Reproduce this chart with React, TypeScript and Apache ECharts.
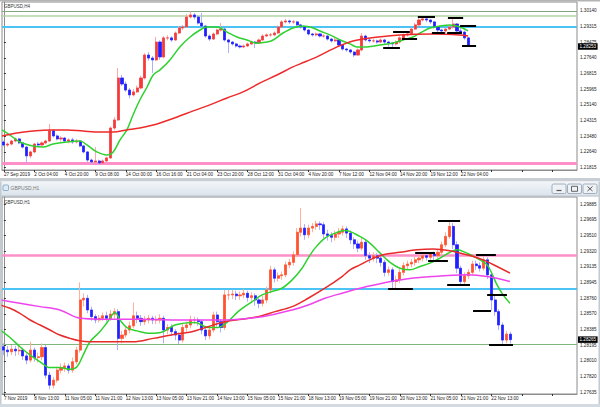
import React, { useEffect, useRef } from 'react';
import * as echarts from 'echarts';

const SLOTS = 151;
const FONT = '"Liberation Sans", Arial, sans-serif';
const FS = 4.6;

const topXLabels = ['27 Sep 2019', '2 Oct 04:00', '4 Oct 20:00', '9 Oct 08:00', '14 Oct 00:00', '16 Oct 16:00', '21 Oct 04:00', '23 Oct 20:00', '28 Oct 12:00', '31 Oct 04:00', '4 Nov 20:00', '7 Nov 12:00', '12 Nov 04:00', '14 Nov 20:00', '19 Nov 12:00', '22 Nov 04:00'];
const botXLabels = ['7 Nov 2019', '8 Nov 13:00', '11 Nov 05:00', '11 Nov 21:00', '12 Nov 13:00', '13 Nov 05:00', '13 Nov 21:00', '14 Nov 13:00', '15 Nov 05:00', '15 Nov 21:00', '18 Nov 13:00', '19 Nov 05:00', '19 Nov 21:00', '20 Nov 13:00', '21 Nov 05:00', '21 Nov 21:00', '22 Nov 13:00'];

const topYTicks = [1.21815, 1.226475, 1.2348, 1.243125, 1.25145, 1.259775, 1.2681, 1.276425, 1.28475, 1.293075, 1.3014];
const topYLabels = ['1.21815', '1.22640', '1.23480', '1.24315', '1.25140', '1.25965', '1.26815', '1.27640', '1.28475', '1.29315', '1.30140'];
const botYTicks = [1.27635, 1.278225, 1.2801, 1.281975, 1.28385, 1.285725, 1.2876, 1.289475, 1.29135, 1.293225, 1.2951, 1.296975, 1.29885];
const botYLabels = ['1.27635', '1.27820', '1.28010', '1.28195', '1.28385', '1.28570', '1.28760', '1.28945', '1.29135', '1.29320', '1.29510', '1.29695', '1.29885'];

// H4 candles [open, close, low, high]
const topCandles = [
[1.2318,1.2302,1.2295,1.2325],[1.2302,1.2307,1.2292,1.2315],[1.2307,1.2323,1.2300,1.2330],[1.2323,1.2334,1.2316,1.2342],
[1.2334,1.2313,1.2306,1.2340],[1.2313,1.2291,1.2284,1.2318],[1.2291,1.2244,1.2206,1.2296],[1.2244,1.2265,1.2232,1.2272],
[1.2265,1.2307,1.2258,1.2313],[1.2307,1.2302,1.2294,1.2318],[1.2302,1.2313,1.2296,1.2321],[1.2313,1.2323,1.2306,1.2330],
[1.2323,1.2377,1.2318,1.2414],[1.2377,1.2350,1.2342,1.2384],[1.2350,1.2334,1.2326,1.2358],[1.2334,1.2339,1.2320,1.2348],
[1.2339,1.2323,1.2316,1.2345],[1.2323,1.2329,1.2311,1.2337],[1.2329,1.2318,1.2308,1.2340],[1.2318,1.2323,1.2310,1.2333],
[1.2323,1.2297,1.2290,1.2328],[1.2297,1.2265,1.2258,1.2302],[1.2265,1.2222,1.2212,1.2270],[1.2222,1.2212,1.2203,1.2230],
[1.2212,1.2217,1.2205,1.2291],[1.2217,1.2206,1.2198,1.2224],[1.2206,1.2217,1.2200,1.2225],[1.2217,1.2233,1.2210,1.2240],
[1.2233,1.2392,1.2228,1.2400],[1.2392,1.2435,1.2380,1.2450],[1.2435,1.2658,1.2430,1.2711],[1.2658,1.2626,1.2615,1.2675],
[1.2626,1.2594,1.2585,1.2640],[1.2594,1.2568,1.2550,1.2605],[1.2568,1.2584,1.2560,1.2600],[1.2584,1.2605,1.2578,1.2618],
[1.2605,1.2658,1.2598,1.2670],[1.2658,1.2780,1.2650,1.2790],[1.2780,1.2764,1.2750,1.2795],[1.2764,1.2754,1.2685,1.2775],
[1.2754,1.2849,1.2748,1.2876],[1.2849,1.2770,1.2755,1.2858],[1.2770,1.2871,1.2762,1.2880],[1.2871,1.2871,1.2858,1.2885],
[1.2871,1.2860,1.2850,1.2880],[1.2860,1.2897,1.2855,1.2905],[1.2897,1.2924,1.2890,1.2935],[1.2924,1.2929,1.2912,1.2940],
[1.2929,1.2982,1.2924,1.2998],[1.2982,1.2993,1.2975,1.3012],[1.2993,1.2982,1.2970,1.3003],[1.2982,1.2950,1.2942,1.2990],
[1.2950,1.2934,1.2925,1.3003],[1.2934,1.2881,1.2872,1.2940],[1.2881,1.2865,1.2855,1.2890],[1.2865,1.2892,1.2860,1.2900],
[1.2892,1.2913,1.2885,1.2920],[1.2913,1.2918,1.2905,1.2950],[1.2918,1.2860,1.2852,1.2925],[1.2860,1.2849,1.2791,1.2866],
[1.2849,1.2839,1.2830,1.2855],[1.2839,1.2828,1.2820,1.2845],[1.2828,1.2823,1.2815,1.2835],[1.2823,1.2828,1.2816,1.2836],
[1.2828,1.2839,1.2822,1.2846],[1.2839,1.2849,1.2833,1.2857],[1.2849,1.2844,1.2817,1.2855],[1.2844,1.2860,1.2838,1.2868],
[1.2860,1.2881,1.2855,1.2890],[1.2881,1.2887,1.2875,1.2895],[1.2887,1.2887,1.2878,1.2897],[1.2887,1.2897,1.2880,1.2905],
[1.2897,1.2929,1.2892,1.2937],[1.2929,1.2956,1.2922,1.2965],[1.2956,1.2961,1.2948,1.2972],[1.2961,1.2956,1.2945,1.2968],
[1.2956,1.2956,1.2946,1.2966],[1.2956,1.2940,1.2932,1.2962],[1.2940,1.2929,1.2920,1.2946],[1.2929,1.2913,1.2905,1.2935],
[1.2913,1.2892,1.2884,1.2918],[1.2892,1.2887,1.2878,1.2898],[1.2887,1.2892,1.2880,1.2900],[1.2892,1.2881,1.2873,1.2897],
[1.2881,1.2881,1.2872,1.2890],[1.2881,1.2865,1.2857,1.2886],[1.2865,1.2855,1.2846,1.2870],[1.2855,1.2860,1.2848,1.2876],
[1.2860,1.2833,1.2825,1.2866],[1.2833,1.2812,1.2804,1.2838],[1.2812,1.2807,1.2798,1.2818],[1.2807,1.2796,1.2787,1.2812],
[1.2796,1.2780,1.2770,1.2800],[1.2780,1.2807,1.2775,1.2815],[1.2807,1.2881,1.2800,1.2897],[1.2881,1.2860,1.2852,1.2888],
[1.2860,1.2855,1.2846,1.2868],[1.2855,1.2855,1.2846,1.2866],[1.2855,1.2849,1.2840,1.2862],[1.2849,1.2860,1.2842,1.2868],
[1.2860,1.2849,1.2838,1.2866],[1.2849,1.2844,1.2825,1.2855],[1.2844,1.2839,1.2817,1.2850],[1.2839,1.2849,1.2830,1.2857],
[1.2849,1.2871,1.2842,1.2880],[1.2871,1.2887,1.2864,1.2895],[1.2887,1.2892,1.2878,1.2902],[1.2892,1.2918,1.2886,1.2926],
[1.2918,1.2940,1.2912,1.2950],[1.2940,1.2966,1.2935,1.2982],[1.2966,1.2972,1.2958,1.2982],[1.2972,1.2966,1.2955,1.2978],
[1.2966,1.2956,1.2945,1.2972],[1.2956,1.2929,1.2920,1.2960],[1.2929,1.2913,1.2900,1.2935],[1.2913,1.2908,1.2897,1.2920],
[1.2908,1.2918,1.2897,1.2925],[1.2918,1.2929,1.2912,1.2937],[1.2929,1.2945,1.2920,1.2977],[1.2945,1.2908,1.2900,1.2950],
[1.2908,1.2902,1.2897,1.2934],[1.2902,1.2871,1.2862,1.2910],[1.2871,1.28253,1.2823,1.2878],
];

// H1 candles [open, close, low, high]
const botCandles = [
[1.2818,1.2814,1.2808,1.2822],[1.2814,1.2812,1.2806,1.2819],[1.2812,1.2815,1.2808,1.2820],[1.2815,1.2813,1.2807,1.2819],
[1.2813,1.2814,1.2808,1.2819],[1.2814,1.2807,1.2802,1.2817],[1.2807,1.2802,1.2797,1.2810],[1.2802,1.2814,1.2799,1.2824],
[1.2814,1.2805,1.2800,1.2817],[1.2805,1.2806,1.2799,1.2811],[1.2806,1.2817,1.2802,1.2822],[1.2817,1.2784,1.2780,1.2820],
[1.2784,1.2772,1.2767,1.2788],[1.2772,1.2778,1.2768,1.2782],[1.2778,1.2790,1.2775,1.2794],[1.2790,1.2793,1.2786,1.2798],
[1.2793,1.2795,1.2788,1.2799],[1.2795,1.2790,1.2786,1.2798],[1.2790,1.2800,1.2787,1.2805],[1.2800,1.2814,1.2797,1.2818],
[1.2814,1.2874,1.2811,1.2895],[1.2874,1.2876,1.2866,1.2882],[1.2876,1.2862,1.2858,1.2880],[1.2862,1.2854,1.2849,1.2866],
[1.2854,1.2850,1.2846,1.2857],[1.2850,1.2852,1.2847,1.2856],[1.2852,1.2855,1.2849,1.2859],[1.2855,1.2852,1.2848,1.2860],
[1.2852,1.2857,1.2849,1.2862],[1.2857,1.2860,1.2852,1.2864],[1.2860,1.2828,1.2814,1.2863],[1.2828,1.2832,1.2822,1.2837],
[1.2832,1.2838,1.2829,1.2842],[1.2838,1.2843,1.2834,1.2848],[1.2843,1.2855,1.2840,1.2871],[1.2855,1.2852,1.2846,1.2860],
[1.2852,1.2848,1.2843,1.2856],[1.2848,1.2850,1.2844,1.2855],[1.2850,1.2852,1.2846,1.2856],[1.2852,1.2850,1.2845,1.2855],
[1.2850,1.2850,1.2845,1.2855],[1.2850,1.2852,1.2846,1.2857],[1.2852,1.2838,1.2822,1.2855],[1.2838,1.2841,1.2833,1.2845],
[1.2841,1.2836,1.2831,1.2845],[1.2836,1.2832,1.2826,1.2839],[1.2832,1.2826,1.2821,1.2835],[1.2826,1.2841,1.2823,1.2845],
[1.2841,1.2844,1.2836,1.2848],[1.2844,1.2850,1.2840,1.2855],[1.2850,1.2850,1.2845,1.2854],[1.2850,1.2848,1.2843,1.2853],
[1.2848,1.2838,1.2833,1.2851],[1.2838,1.2831,1.2826,1.2841],[1.2831,1.2838,1.2827,1.2843],[1.2838,1.2856,1.2835,1.2860],
[1.2856,1.2848,1.2842,1.2860],[1.2848,1.2841,1.2835,1.2851],[1.2841,1.2880,1.2838,1.2886],[1.2880,1.2880,1.2874,1.2886],
[1.2880,1.2881,1.2875,1.2886],[1.2881,1.2879,1.2874,1.2885],[1.2879,1.2880,1.2874,1.2884],[1.2880,1.2882,1.2876,1.2887],
[1.2882,1.2877,1.2872,1.2885],[1.2877,1.2879,1.2873,1.2883],[1.2879,1.2874,1.2867,1.2882],[1.2874,1.2870,1.2864,1.2877],
[1.2870,1.2874,1.2866,1.2879],[1.2874,1.2886,1.2870,1.2890],[1.2886,1.2910,1.2882,1.2915],[1.2910,1.2900,1.2895,1.2913],
[1.2900,1.2903,1.2896,1.2907],[1.2903,1.2904,1.2898,1.2908],[1.2904,1.2916,1.2901,1.2920],[1.2916,1.2919,1.2912,1.2923],
[1.2919,1.2928,1.2915,1.2932],[1.2928,1.2955,1.2925,1.2960],[1.2955,1.2960,1.2950,1.2984],[1.2960,1.2952,1.2946,1.2965],
[1.2952,1.2960,1.2948,1.2964],[1.2960,1.2962,1.2955,1.2966],[1.2962,1.2965,1.2958,1.2969],[1.2965,1.2964,1.2958,1.2968],
[1.2964,1.2953,1.2948,1.2967],[1.2953,1.2951,1.2945,1.2958],[1.2951,1.2949,1.2943,1.2955],[1.2949,1.2953,1.2945,1.2957],
[1.2953,1.2955,1.2948,1.2960],[1.2955,1.2959,1.2951,1.2963],[1.2959,1.2954,1.2948,1.2962],[1.2954,1.2946,1.2941,1.2957],
[1.2946,1.2941,1.2935,1.2949],[1.2941,1.2936,1.2931,1.2945],[1.2936,1.2943,1.2933,1.2948],[1.2943,1.2927,1.2922,1.2946],
[1.2927,1.2924,1.2918,1.2931],[1.2924,1.2927,1.2920,1.2931],[1.2927,1.2924,1.2918,1.2930],[1.2924,1.2919,1.2914,1.2927],
[1.2919,1.2907,1.2902,1.2922],[1.2907,1.2910,1.2903,1.2914],[1.2910,1.2896,1.2887,1.2913],[1.2896,1.2898,1.2887,1.2903],
[1.2898,1.2907,1.2894,1.2911],[1.2907,1.2915,1.2903,1.2919],[1.2915,1.2917,1.2911,1.2921],[1.2917,1.2919,1.2913,1.2923],
[1.2919,1.2922,1.2915,1.2927],[1.2922,1.2924,1.2918,1.2931],[1.2924,1.2927,1.2920,1.2931],[1.2927,1.2925,1.2921,1.2930],
[1.2925,1.2929,1.2921,1.2931],[1.2929,1.2927,1.2921,1.2932],[1.2927,1.2931,1.2924,1.2935],[1.2931,1.2940,1.2928,1.2944],
[1.2940,1.2950,1.2937,1.2955],[1.2950,1.2962,1.2947,1.2969],[1.2962,1.2940,1.2935,1.2966],[1.2940,1.2912,1.2906,1.2944],
[1.2912,1.2896,1.2892,1.2915],[1.2896,1.2903,1.2892,1.2907],[1.2903,1.2907,1.2899,1.2911],[1.2907,1.2917,1.2904,1.2921],
[1.2917,1.2915,1.2910,1.2921],[1.2915,1.2912,1.2908,1.2919],[1.2912,1.2922,1.2909,1.2928],[1.2922,1.2904,1.2899,1.2925],
[1.2904,1.2874,1.2861,1.2906],[1.2874,1.2860,1.2855,1.2880],[1.2860,1.2844,1.2838,1.2863],[1.2844,1.2826,1.2820,1.2847],
[1.2826,1.2833,1.2822,1.2837],[1.2833,1.28265,1.2822,1.2836],
];

// moving averages as [slot, price]
const topMaFast = [[-0.5,1.2382],[1.6,1.2355],[4.2,1.2318],[7.6,1.2297],[10.3,1.2291],[12.9,1.2307],[16.6,1.2318],[20,1.2323],[21.8,1.2302],[24.4,1.2265],[27.1,1.2249],[28.7,1.2265],[30.5,1.2329],[32.3,1.2382],[33.9,1.2461],[35.7,1.2541],[37.6,1.2610],[39.2,1.2674],[41,1.2701],[43.6,1.2754],[46.2,1.2823],[48.9,1.2876],[51.5,1.2913],[53.3,1.2929],[56,1.2929],[58.6,1.2902],[61.2,1.2876],[63.8,1.2860],[66.5,1.2843],[69.1,1.2849],[70.7,1.2860],[73.3,1.2897],[75.9,1.2924],[78.5,1.2934],[81.2,1.2924],[83,1.2908],[85.6,1.2887],[88.3,1.2860],[90.9,1.2839],[92.7,1.2823],[95.3,1.2823],[98.8,1.2833],[102.2,1.2844],[104.8,1.2860],[107.4,1.2876],[109.3,1.2897],[111.9,1.2924],[114.5,1.2934],[117.1,1.2940],[119.8,1.2929],[121.9,1.2908]];
const topMaSlow = [[-0.5,1.2350],[3.4,1.2366],[7.6,1.2376],[12.1,1.2382],[16.6,1.2382],[20.8,1.2376],[25.2,1.2371],[28.7,1.2371],[32.3,1.2382],[35.7,1.2392],[39.2,1.2408],[41,1.2419],[45.5,1.2451],[49.7,1.2483],[54.1,1.2515],[58.6,1.2552],[62.8,1.2584],[67.3,1.2632],[71.7,1.2674],[75.9,1.2717],[77.8,1.2733],[82.2,1.2770],[87.5,1.2823],[91.7,1.2855],[96.1,1.2871],[104,1.2887],[112.7,1.2892],[119.8,1.2887],[121.9,1.2881]];
const botMaFast = [[-1,1.2838],[1.6,1.2829],[4.2,1.2818],[6.9,1.2808],[9.5,1.2800],[12.1,1.2793],[14.7,1.2793],[17.4,1.2791],[19.2,1.2794],[20.8,1.2808],[22.6,1.2824],[25.2,1.2836],[27.1,1.2847],[29.2,1.2859],[30.5,1.2850],[32.3,1.2841],[34.9,1.2837],[38.4,1.2834],[41.8,1.2836],[44.9,1.2844],[50.2,1.2847],[53.6,1.2841],[56.2,1.2841],[58.8,1.2848],[61.5,1.2860],[65.2,1.2872],[67.8,1.2880],[70.4,1.2884],[73,1.2888],[75.7,1.2898],[78.3,1.2912],[79.9,1.2924],[81.7,1.2936],[84.3,1.2948],[87,1.2954],[89.6,1.2957],[93.5,1.2950],[96.1,1.2942],[98.8,1.2930],[101.4,1.2919],[104,1.2912],[106.6,1.2910],[109.3,1.2914],[111.9,1.2918],[114.5,1.2924],[117.1,1.2931],[119,1.2934],[121.6,1.2930],[124.2,1.2924],[126.9,1.2916],[129.5,1.2892],[131.1,1.2880],[132.9,1.2870]];
const botMaSlow = [[-1,1.2868],[1.6,1.2864],[4.2,1.2858],[6.9,1.2850],[9.5,1.2844],[12.1,1.2838],[14.7,1.2832],[17.4,1.2828],[20,1.2825],[22.6,1.2824],[27.9,1.2824],[33.9,1.2824],[39.2,1.2828],[44.9,1.2833],[49.4,1.2836],[53.6,1.2842],[58.1,1.2848],[62.5,1.2851],[66.7,1.2854],[71.2,1.2860],[75.7,1.2866],[79.9,1.2876],[84.3,1.2888],[88.8,1.2902],[90.9,1.2910],[93.5,1.2916],[96.1,1.2922],[99.6,1.2928],[104,1.2931],[108.5,1.2934],[112.7,1.2935],[117.1,1.2933],[121.6,1.2928],[125.8,1.2922],[129.5,1.2914],[132.9,1.2906]];
const botMaLong = [[-1,1.2874],[4.2,1.2870],[9.5,1.2866],[14.7,1.2862],[20,1.2852],[25.2,1.2851],[35.7,1.2851],[44.9,1.2850],[58.1,1.2850],[67.8,1.2854],[75.7,1.2862],[79.9,1.2868],[84.3,1.2876],[88.8,1.2882],[95.3,1.2890],[104,1.2898],[112.7,1.2902],[121.6,1.2904],[126.9,1.2902],[132.9,1.2896]];

// horizontal levels
const topLevels = [1.3014, 1.2988, 1.2932, 1.2203];
const botLevels = [1.2928, 1.2887, 1.2821];
// short black segments [fromSlot, toSlot, price]
const topSegments = [[99.6,104.0,1.2817],[102.2,106.6,1.2902],[104.5,108.5,1.2864],[108.7,113.2,1.2982],[112.4,115.8,1.2897],[116.4,120.3,1.2897],[116.6,120.6,1.2977],[119.8,124,1.2934],[120.3,124,1.2828]];
const botSegments = [[114,119.8,1.2969],[108,113.2,1.2931],[111.4,116.6,1.2921],[100.9,107.4,1.2887],[116.4,122.4,1.2892],[124,129.2,1.2928],[126.9,132.1,1.2880],[123.2,127.9,1.2861],[127.4,133.7,1.2820]];

const topLevelStyles = [
  { color: '#7fa67f', width: 1 },
  { color: '#b3d3a3', width: 1.5 },
  { color: '#4cc3f5', width: 2 },
  { color: '#ff8fc8', width: 3 },
];
const botLevelStyles = [
  { color: '#ff8fc8', width: 2.5 },
  { color: '#4cc3f5', width: 2 },
  { color: '#7fb87f', width: 1 },
];

function makeLabelFormatter(ticks: number[], labels: string[]) {
  return (v: number) => {
    const i = ticks.findIndex((t) => Math.abs(t - v) < 1e-7);
    return i >= 0 ? labels[i] : '';
  };
}

function buildSeries(
  xCat: number, xVal: number, yIdx: number, candles: number[][], mas: { data: number[][]; color: string }[],
  levels: number[], levelStyles: { color: string; width: number }[], segments: number[][], up: string, upWick: string,
) {
  const last = candles[candles.length - 1][1];
  const bodies = candles.map(([o, c]) => [o, c, Math.min(o, c), Math.max(o, c)]);
  const L = -0.5;
  const R = SLOTS - 0.5;
  const hidden = { type: 'line', xAxisIndex: xVal, yAxisIndex: yIdx, showSymbol: false, silent: true, lineStyle: { width: 0, opacity: 0 } };
  const series: any[] = [
    {
      ...hidden, data: [[L, levels[0]]], z: 1,
      markLine: {
        silent: true, symbol: ['none', 'none'], z: 1, label: { show: false },
        data: levels.map((p, i) => [
          { coord: [L, p], lineStyle: { color: levelStyles[i].color, width: levelStyles[i].width, type: 'solid' } },
          { coord: [R, p] },
        ]),
      },
    },
    {
      type: 'candlestick', xAxisIndex: xCat, yAxisIndex: yIdx, data: candles, barWidth: 2.6, z: 2, silent: true,
      itemStyle: { color: upWick, color0: '#aeaeff', borderColor: upWick, borderColor0: '#aeaeff', borderWidth: 1 },
    },
    {
      type: 'candlestick', xAxisIndex: xCat, yAxisIndex: yIdx, data: bodies, barWidth: 2.6, z: 3, silent: true,
      itemStyle: { color: up, color0: '#1f1fff', borderColor: up, borderColor0: '#1f1fff', borderWidth: 0.6 },
    },
  ];
  mas.forEach((m) => {
    series.push({
      type: 'line', xAxisIndex: xVal, yAxisIndex: yIdx, data: m.data, smooth: 0.35, showSymbol: false, silent: true,
      lineStyle: { color: m.color, width: 1.5 }, z: 4, clip: true,
    });
  });
  series.push({
    ...hidden, data: [[L, last]], z: 6,
    markLine: {
      silent: true, symbol: ['none', 'none'], z: 6, label: { show: false },
      lineStyle: { color: '#000', width: 2, type: 'solid' },
      data: segments.map(([a, b, p]) => [{ coord: [a, p] }, { coord: [b, p] }]),
    },
  });
  series.push({
    ...hidden, data: [[R, last]], z: 10,
    markLine: {
      silent: true, symbol: ['none', 'none'], z: 10,
      lineStyle: { color: 'rgba(0,0,0,0)', width: 0 },
      label: {
        show: true, position: 'end', distance: 1, formatter: () => last.toFixed(5),
        backgroundColor: '#000', color: '#fff', fontSize: FS, fontFamily: FONT, padding: [1, 1.5, 0.5, 1.5],
      },
      data: [[{ coord: [L, last] }, { coord: [R, last] }]],
    },
  });
  return series;
}

export default function App() {
  const ref = useRef<HTMLDivElement>(null);
  useEffect(() => {
    const chart = echarts.init(ref.current as HTMLDivElement, null, { renderer: 'svg' });
    const cats = Array.from({ length: SLOTS }, (_, i) => String(i));
    const catAxis = (grid: number, labels: string[]) => ({
      type: 'category', gridIndex: grid, data: cats, boundaryGap: true,
      axisLine: { show: true, lineStyle: { color: '#8c8c8c', width: 1 } },
      axisTick: { show: true, interval: 7, alignWithLabel: true, length: 2, lineStyle: { color: '#333' } },
      axisLabel: {
        interval: 7, align: 'left', margin: 1.5, fontSize: FS, fontFamily: FONT, color: '#222',
        formatter: (_v: string, idx: number) => (idx % 8 === 0 && labels[idx / 8]) ? labels[idx / 8] : '',
      },
      splitLine: { show: false },
    });
    const valAxis = (grid: number) => ({ type: 'value', gridIndex: grid, min: -0.5, max: SLOTS - 0.5, show: false });
    const yAxis = (grid: number, min: number, max: number, ticks: number[], labels: string[]) => ({
      type: 'value', gridIndex: grid, position: 'right', min, max,
      axisLine: { show: true, lineStyle: { color: '#8c8c8c', width: 1 } },
      axisTick: { show: true, length: 2, customValues: ticks, lineStyle: { color: '#333' } },
      axisLabel: { customValues: ticks, formatter: makeLabelFormatter(ticks, labels), fontSize: FS, fontFamily: FONT, color: '#222', margin: 3 },
      splitLine: { show: false },
    });

    const series = [
      ...buildSeries(0, 1, 0, topCandles, [
        { data: topMaFast, color: '#2fd12f' },
        { data: topMaSlow, color: '#ee2a2a' },
      ], topLevels, topLevelStyles, topSegments, '#f43a3a', '#ffa6a6'),
      ...buildSeries(2, 3, 1, botCandles, [
        { data: botMaFast, color: '#2fd12f' },
        { data: botMaSlow, color: '#e82a2a' },
        { data: botMaLong, color: '#ee44ee' },
      ], botLevels, botLevelStyles, botSegments, '#ff5230', '#ffb09a'),
    ];

    const txt = (x: number, y: number, text: string, size: number, fill: string) => ({
      type: 'text', x, y, z: 100, silent: true,
      style: { text, fontSize: size, fontFamily: FONT, fill, verticalAlign: 'top', align: 'left' },
    });

    const graphic: any[] = [
      { type: 'rect', z: 100, silent: true, shape: { x: 0, y: 0, width: 600, height: 1.5 }, style: { fill: '#b4b4b4' } },
      txt(4, 3.5, 'GBPUSD,H4', 4.5, '#333'),
      { type: 'rect', z: 100, silent: true, shape: { x: 0, y: 178, width: 600, height: 3.5 }, style: { fill: '#c9ced4' } },
      {
        type: 'rect', z: 100, silent: true, shape: { x: 0, y: 181.5, width: 600, height: 14 },
        style: { fill: new echarts.graphic.LinearGradient(0, 0, 0, 1, [{ offset: 0, color: '#f3f6f9' }, { offset: 1, color: '#dbe3eb' }]) },
      },
      { type: 'rect', z: 100, silent: true, shape: { x: 0, y: 195.5, width: 600, height: 1 }, style: { fill: '#aeb8c2' } },
      { type: 'rect', z: 100, silent: true, shape: { x: 0, y: 181.5, width: 1.5, height: 226 }, style: { fill: '#c2cad2' } },
      { type: 'rect', z: 100, silent: true, shape: { x: 598.5, y: 181.5, width: 1.5, height: 226 }, style: { fill: '#c2cad2' } },
      { type: 'rect', z: 100, silent: true, shape: { x: 0, y: 404, width: 600, height: 3 }, style: { fill: '#d3dae1' } },
      { type: 'rect', z: 101, silent: true, shape: { x: 3, y: 185, width: 5.5, height: 5.5, r: 1 }, style: { fill: '#dde9f5', stroke: '#6e94bb', lineWidth: 0.7 } },
      txt(10.5, 185.5, 'GBPUSD,H1', 5, '#7a7a7a'),
      txt(4, 199.5, 'GBPUSD,H1', 4.5, '#333'),
    ];
    const btnX = [552, 567.5, 583];
    btnX.forEach((bx) => {
      graphic.push({ type: 'rect', z: 101, silent: true, shape: { x: bx, y: 184, width: 14, height: 9.5, r: 1.5 }, style: { fill: '#eef2f6', stroke: '#8e9dac', lineWidth: 0.8 } });
    });
    graphic.push({ type: 'line', z: 102, silent: true, shape: { x1: 556.5, y1: 190.5, x2: 561.5, y2: 190.5 }, style: { stroke: '#555', lineWidth: 1.2 } });
    graphic.push({ type: 'rect', z: 102, silent: true, shape: { x: 571.5, y: 186.3, width: 6, height: 5 }, style: { fill: 'none', stroke: '#555', lineWidth: 0.9 } });
    graphic.push({ type: 'line', z: 102, silent: true, shape: { x1: 587.5, y1: 186.5, x2: 592.5, y2: 191 }, style: { stroke: '#555', lineWidth: 1 } });
    graphic.push({ type: 'line', z: 102, silent: true, shape: { x1: 592.5, y1: 186.5, x2: 587.5, y2: 191 }, style: { stroke: '#555', lineWidth: 1 } });

    chart.setOption({
      animation: false,
      backgroundColor: '#ffffff',
      grid: [
        { left: 2, top: 2, width: 575, height: 168, show: true, borderColor: '#8c8c8c', borderWidth: 1, backgroundColor: '#fff' },
        { left: 2, top: 197, width: 575, height: 197, show: true, borderColor: '#8c8c8c', borderWidth: 1, backgroundColor: '#fff' },
      ],
      xAxis: [catAxis(0, topXLabels), valAxis(0), catAxis(1, botXLabels), valAxis(1)],
      yAxis: [
        yAxis(0, 1.216905, 1.30618, topYTicks, topYLabels),
        yAxis(1, 1.276143, 1.29972, botYTicks, botYLabels),
      ],
      series,
      graphic,
    });
    return () => chart.dispose();
  }, []);
  return <div ref={ref} style={{ position: 'fixed', left: 0, top: 0, width: 600, height: 407, background: '#fff' }} />;
}
